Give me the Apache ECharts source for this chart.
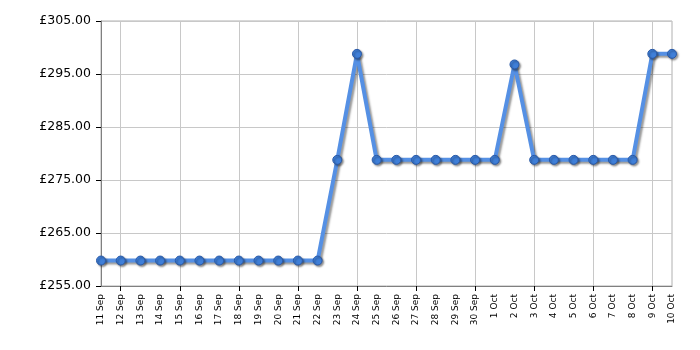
<!DOCTYPE html>
<html>
<head>
<meta charset="utf-8">
<script src="https://cdn.jsdelivr.net/npm/echarts@6/dist/echarts.min.js"></script>
<style>html,body{margin:0;padding:0;background:#fff}#c{width:700px;height:350px}</style>
</head>
<body>
<div id="c"></div>
<script>
const categories = ['11 Sep','12 Sep','13 Sep','14 Sep','15 Sep','16 Sep','17 Sep','18 Sep','19 Sep','20 Sep','21 Sep','22 Sep','23 Sep','24 Sep','25 Sep','26 Sep','27 Sep','28 Sep','29 Sep','30 Sep','1 Oct','2 Oct','3 Oct','4 Oct','5 Oct','6 Oct','7 Oct','8 Oct','9 Oct','10 Oct'];
const prices = [259.8,259.8,259.8,259.8,259.8,259.8,259.8,259.8,259.8,259.8,259.8,259.8,278.8,298.8,278.8,278.8,278.8,278.8,278.8,278.8,278.8,296.8,278.8,278.8,278.8,278.8,278.8,278.8,298.8,298.8];
const yMin = 255, yMax = 305, yStep = 10;

const chart = echarts.init(document.getElementById('c'), null, {renderer: 'canvas'});
const every3 = (i) => (i % 3) === 1;
chart.setOption({
  animation: false,
  backgroundColor: '#ffffff',
  grid: {left: 101, right: 28, top: 21, bottom: 64, show: true, borderColor: '#b0b0b0', borderWidth: 1},
  xAxis: {
    type: 'category',
    data: categories,
    boundaryGap: false,
    axisLine: {lineStyle: {color: '#808080', width: 1}},
    axisTick: {show: true, interval: every3, length: 5, lineStyle: {color: '#000'}},
    splitLine: {show: true, interval: every3, lineStyle: {color: '#c8c8c8', width: 1}},
    axisLabel: {interval: 0, rotate: 90, fontSize: 9, color: '#000', fontFamily: 'DejaVu Sans', margin: 8}
  },
  yAxis: {
    type: 'value',
    min: yMin, max: yMax, interval: yStep,
    axisLine: {show: true, lineStyle: {color: '#808080', width: 1}},
    axisTick: {show: true, length: 5, lineStyle: {color: '#000'}},
    splitLine: {show: true, lineStyle: {color: '#c8c8c8', width: 1}},
    axisLabel: {fontSize: 12.5, color: '#000', fontFamily: 'DejaVu Sans', margin: 10,
      formatter: v => '£' + v.toFixed(2)}
  },
  series: [{
    type: 'line',
    data: prices,
    symbol: 'circle',
    symbolSize: 9,
    lineStyle: {color: '#5590e4', width: 4, shadowColor: 'rgba(0,0,0,0.4)', shadowBlur: 2, shadowOffsetX: 2, shadowOffsetY: 2},
    itemStyle: {color: '#3f7fd8', borderColor: '#2a5aa8', borderWidth: 1, shadowColor: 'rgba(0,0,0,0.4)', shadowBlur: 2, shadowOffsetX: 1.5, shadowOffsetY: 1.5}
  }]
});
</script>
</body>
</html>
